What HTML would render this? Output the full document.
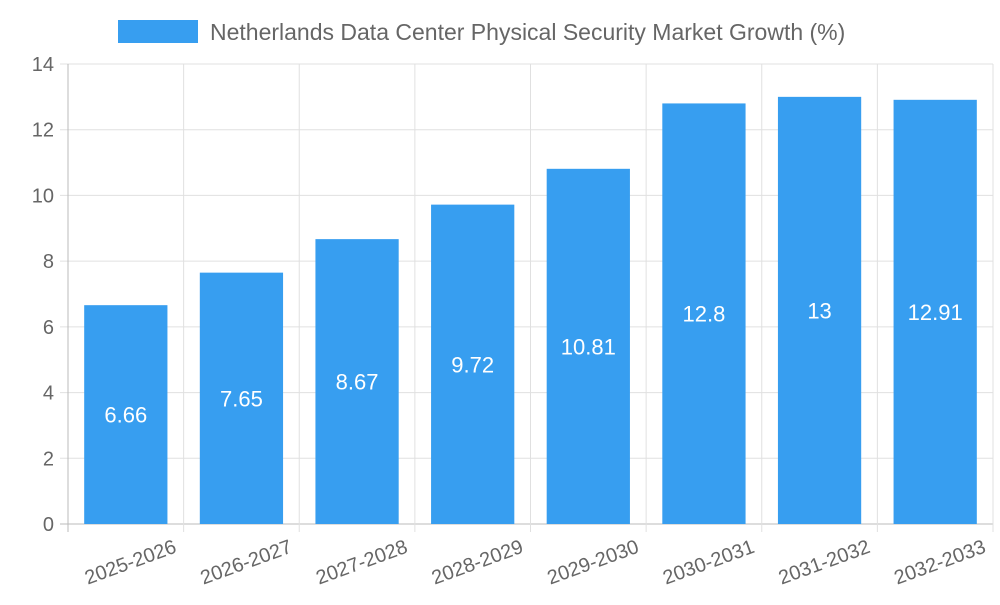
<!DOCTYPE html>
<html><head><meta charset="utf-8"><style>
body{margin:0;background:#fff;font-family:"Liberation Sans",sans-serif}
svg text{font-family:"Liberation Sans",sans-serif}
</style></head><body>
<svg id="chart" width="1000" height="600" xmlns="http://www.w3.org/2000/svg">
<rect x="118" y="20" width="80" height="23" fill="#379ef0"/>
<text x="210" y="40" font-size="23" fill="#666">Netherlands Data Center Physical Security Market Growth (%)</text>
<g id="grid"></g><g id="bars"></g><g id="labels"></g>
</svg>
<script>
const categories=["2025-2026","2026-2027","2027-2028","2028-2029","2029-2030","2030-2031","2031-2032","2032-2033"];
const values=[6.66,7.65,8.67,9.72,10.81,12.8,13,12.91];
const valueLabels=["6.66","7.65","8.67","9.72","10.81","12.8","13","12.91"];
const yTicks=[0,2,4,6,8,10,12,14];
const NS="http://www.w3.org/2000/svg";
const L=68,R=993,T=64,B=524,yMax=14;
const y=v=>B-(v/yMax)*(B-T);
const bw=(R-L)/categories.length;
const x=i=>L+i*bw;
const grid=document.getElementById('grid'),bars=document.getElementById('bars'),labels=document.getElementById('labels');
function mk(tag,attrs,parent){const e=document.createElementNS(NS,tag);for(const k in attrs)e.setAttribute(k,attrs[k]);parent.appendChild(e);return e;}
yTicks.forEach(t=>{
 const l=mk('line',{x1:L-8,x2:R,y1:y(t),y2:y(t),stroke:t===0?'#bbb':'#e0e0e0','stroke-width':1},grid);
 
 
 const tx=mk('text',{x:L-14,y:y(t)+7,'font-size':20,fill:'#666','text-anchor':'end'},grid);
 tx.textContent=t;
 
 
});
for(let i=0;i<=categories.length;i++){
 const l=mk('line',{x1:x(i),x2:x(i),y1:T,y2:B+8,stroke:i===0?'#bbb':'#e0e0e0','stroke-width':1},grid);
 
 
}
categories.forEach((c,i)=>{
 const w=bw*0.72,cx=x(i)+bw/2;
 const r=mk('rect',{x:cx-w/2,y:y(values[i]),width:w,height:B-y(values[i]),fill:'#379ef0'},bars);
 
 
 const vt=mk('text',{x:cx,y:(y(values[i])+B)/2+8,'font-size':22,fill:'#fff','text-anchor':'middle'},labels);
 vt.textContent=valueLabels[i];
 
 
 const ct=mk('text',{x:x(i+1)-6,y:B+28,'font-size':20,fill:'#666','text-anchor':'end',transform:`rotate(-20 ${x(i+1)-6} ${B+28})`},labels);
 ct.textContent=c;
 
 
});
</script>
</body></html>
